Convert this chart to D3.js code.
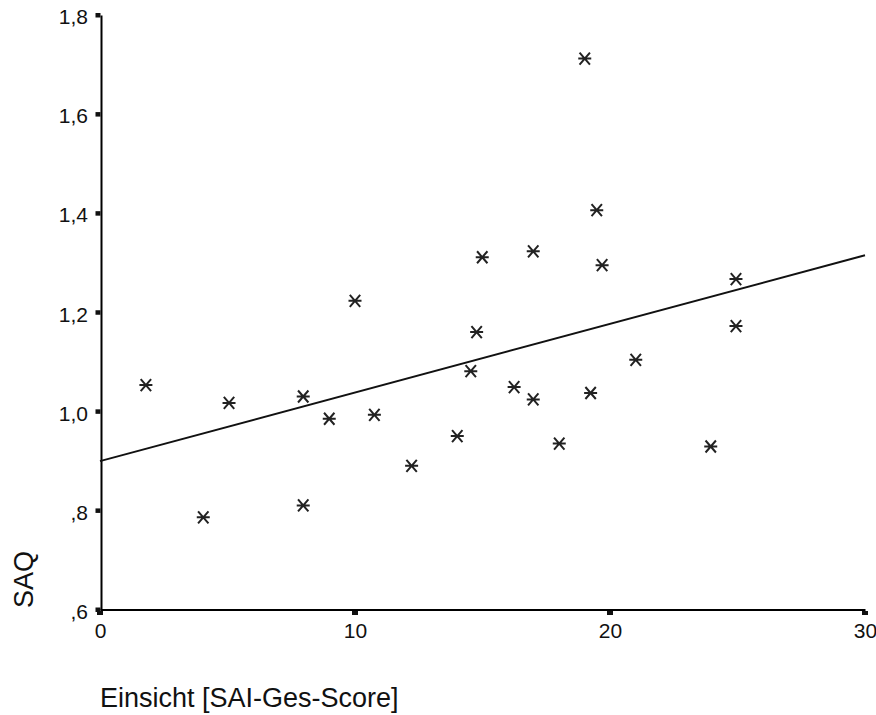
<!DOCTYPE html>
<html>
<head>
<meta charset="utf-8">
<script src="https://cdn.jsdelivr.net/npm/d3@7"></script>
<style>
  html, body { margin:0; padding:0; background:#fff; }
  svg { display:block; font-family:"Liberation Sans", Arial, sans-serif; }
</style>
</head>
<body>
<svg id="chart" width="876" height="715"></svg>
<script>
// ----------------------
// DATA
// ----------------------
const sai = [1.8, 4.05, 5.06, 7.97, 7.97, 8.99, 10.0, 10.76, 12.22, 14.01, 14.54, 14.77, 14.99,
             16.24, 16.99, 16.99, 18.01, 19.01, 19.24, 19.48, 19.69, 21.01, 23.95, 24.94, 24.94];
const saq = [1.053, 0.786, 1.017, 1.030, 0.810, 0.985, 1.223, 0.993, 0.890, 0.950, 1.081, 1.160, 1.311,
             1.049, 1.024, 1.323, 0.935, 1.712, 1.037, 1.406, 1.295, 1.104, 0.929, 1.267, 1.172];
const fitX = [0, 30];
const fitY = [0.8995, 1.315];
const xTicks = [0, 10, 20, 30];
const yTicks = [0.6, 0.8, 1.0, 1.2, 1.4, 1.6, 1.8];
const xTitle = "Einsicht [SAI-Ges-Score]";
const yTitle = "SAQ";

// ----------------------
// SCALES
// ----------------------
const svg = d3.select("#chart");
const x = d3.scaleLinear().domain([0, 30]).range([100, 865]);
const y = d3.scaleLinear().domain([0.6, 1.8]).range([609.5, 15]);

// german style labels: "1,8" and ",8"
function fmtY(v){
  let s = v.toFixed(1).replace(".", ",");
  if(s.startsWith("0")) s = s.slice(1);
  return s;
}

// ----------------------
// AXES
// ----------------------
const yAxis = svg.append("g").attr("transform", "translate(101,0)")
  .call(d3.axisLeft(y).tickValues(yTicks).tickSize(0).tickPadding(13).tickFormat(fmtY));
yAxis.select(".domain").attr("stroke", "#000").attr("stroke-width", 2);
yAxis.selectAll("text").attr("font-size", 21).attr("fill", "#111")
  .attr("font-family", "'Liberation Sans', Arial, sans-serif").attr("dy", "0.42em");

const xAxis = svg.append("g").attr("transform", "translate(0,609.5)")
  .call(d3.axisBottom(x).tickValues(xTicks).tickSize(0).tickPadding(14).tickFormat(d3.format("d")));
xAxis.select(".domain").attr("stroke", "#000").attr("stroke-width", 2);
xAxis.selectAll("text").attr("font-size", 21).attr("fill", "#111")
  .attr("font-family", "'Liberation Sans', Arial, sans-serif").attr("dy", "0.71em");

// little square tick marks
svg.append("g").selectAll("rect").data(yTicks).join("rect")
  .attr("x", 95.5).attr("y", d => y(d) - 2).attr("width", 5).attr("height", 4.5).attr("fill", "#111");
svg.append("g").selectAll("rect").data(xTicks).join("rect")
  .attr("x", d => x(d) - 3).attr("y", 611).attr("width", 6).attr("height", 4).attr("fill", "#111");

// ----------------------
// FIT LINE
// ----------------------
const fit = fitX.map((v, i) => ({ x: v, y: fitY[i] }));
svg.append("path").datum(fit)
  .attr("d", d3.line().x(d => x(d.x)).y(d => y(d.y)))
  .attr("fill", "none").attr("stroke", "#111").attr("stroke-width", 1.9);

// ----------------------
// POINTS (asterisk markers)
// ----------------------
const pts = sai.map((v, i) => ({ x: v, y: saq[i] }));
const r = 6.5, dx = 5.2, dy = 6;
const star = `M${-r},0L${r},0M${-dx},${-dy}L${dx},${dy}M${-dx},${dy}L${dx},${-dy}`;
svg.append("g").selectAll("path").data(pts).join("path")
  .attr("transform", d => `translate(${x(d.x)},${y(d.y)})`)
  .attr("d", star).attr("fill", "none").attr("stroke", "#222").attr("stroke-width", 2);

// ----------------------
// TITLES
// ----------------------
svg.append("text").attr("x", 100).attr("y", 707).attr("font-size", 27).attr("fill", "#111")
  .text(xTitle);
svg.append("text").attr("transform", "translate(33,608) rotate(-90)")
  .attr("font-size", 27).attr("fill", "#111").text(yTitle);
</script>
</body>
</html>
